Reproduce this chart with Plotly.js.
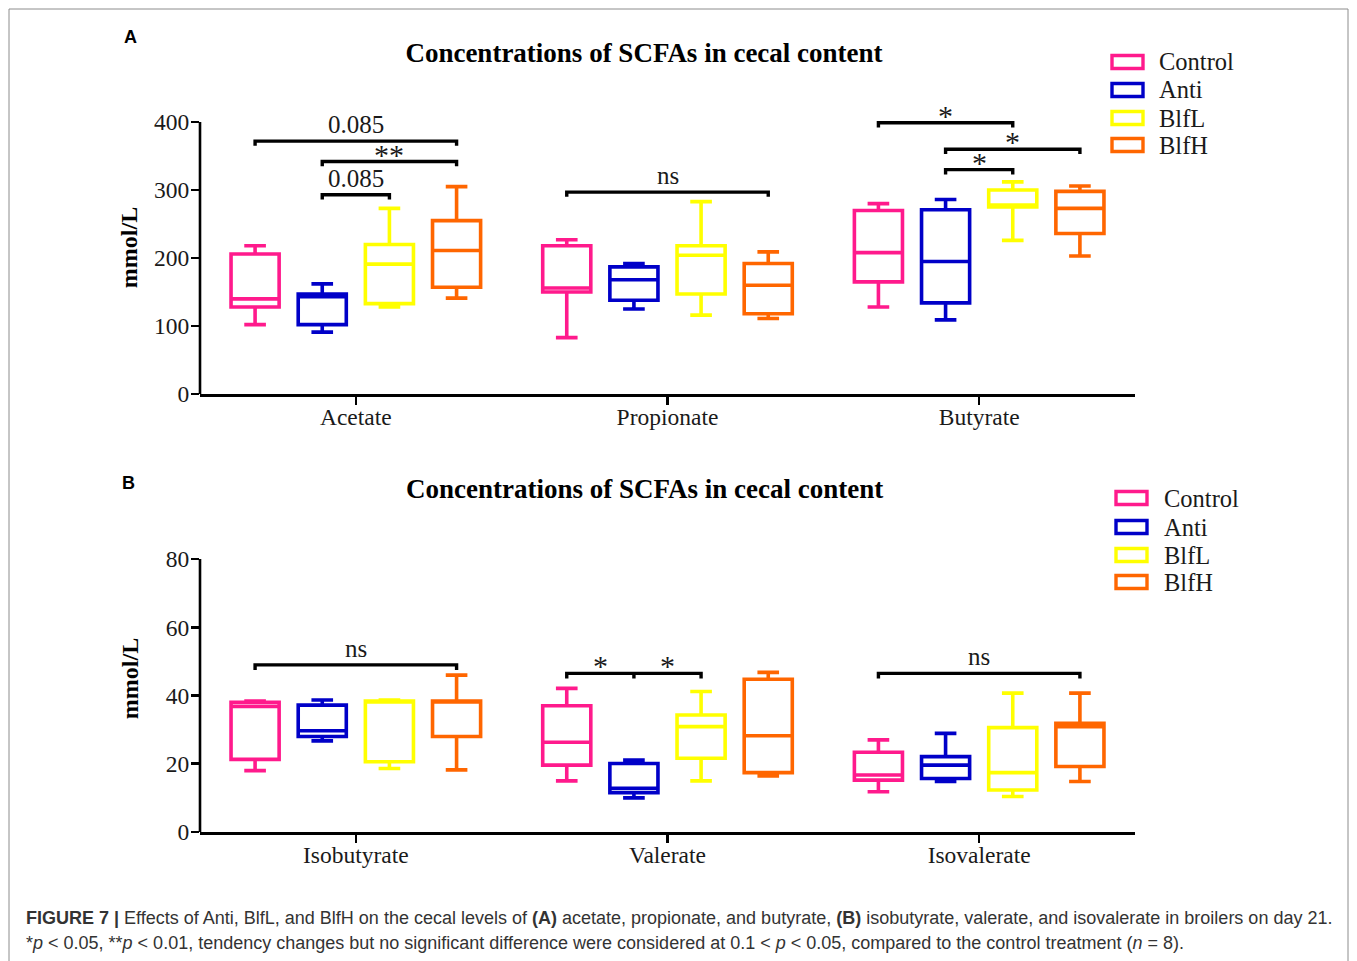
<!DOCTYPE html>
<html>
<head>
<meta charset="utf-8">
<script src="https://cdn.plot.ly/plotly-3.0.1.min.js"></script>
<style>html,body{margin:0;padding:0;background:#fff;}#chart{width:1357px;height:961px;}</style>
</head>
<body>
<div id="chart"></div>
<script>
// ---------- DATA ----------
const groups = ['Control', 'Anti', 'BlfL', 'BlfH'];
const colors = ['#ff1a8c', '#0000c8', '#ffff00', '#ff6600'];

const catsA = ['Acetate', 'Propionate', 'Butyrate'];
const catsB = ['Isobutyrate', 'Valerate', 'Isovalerate'];

// Panel A (mmol/L): per group, values for Acetate, Propionate, Butyrate
const upperA  = [[218, 227, 280], [162, 192, 286], [273, 283, 312], [305, 209, 306]];
const q3A     = [[206, 218, 270], [147, 187, 271], [220, 218, 300], [255, 192, 298]];
const medianA = [[140, 156, 208], [143, 168, 195], [191, 204, 278], [211, 160, 273]];
const q1A     = [[128, 150, 165], [102, 138, 134], [133, 147, 275], [157, 118, 236]];
const lowerA  = [[102, 83, 128],  [91, 125, 109],  [128, 116, 226], [141, 111, 203]];

// Panel B (mmol/L): per group, values for Isobutyrate, Valerate, Isovalerate
const upperB  = [[38.4, 42.1, 27.0], [38.7, 21.1, 28.9], [38.7, 41.2, 40.7], [46.0, 46.8, 40.7]];
const q3B     = [[38.0, 37.0, 23.4], [37.2, 20.1, 22.1], [38.4, 34.3, 30.6], [38.4, 44.8, 31.9]];
const medianB = [[36.8, 26.3, 16.7], [29.7, 12.8, 19.6], [38.2, 30.9, 17.4], [38.3, 28.2, 30.9]];
const q1B     = [[21.3, 19.6, 15.2], [28.0, 11.5, 15.7], [20.6, 21.6, 12.3], [28.0, 17.4, 19.2]];
const lowerB  = [[18.0, 15.0, 11.8], [26.7, 10.0, 14.8], [18.6, 15.0, 10.4], [18.2, 16.4, 14.8]];

// Significance brackets: [category index, from group, to group, level, label]
const bracketsA = [
  [0, 0, 3, 372, '0.085'],
  [0, 1, 3, 342, '**'],
  [0, 1, 2, 293, '0.085'],
  [1, 0, 3, 297, 'ns'],
  [2, 0, 2, 399, '*'],
  [2, 1, 3, 360, '*'],
  [2, 1, 2, 330, '*']
];
const bracketsB = [
  [0, 0, 3, 49, 'ns'],
  [2, 0, 3, 46.5, 'ns']
];
// Valerate double bracket: Control–Anti–BlfL
const doubleB = [1, 0, 1, 2, 46.5, '*', '*'];

// ---------- LAYOUT HELPERS ----------
const W = 1357, H = 961;
const mL = 200, mR = 222, mT = 101, mB = 129;
const plotW = W - mL - mR, plotH = H - mT - mB;
const px = x => (x - mL) / plotW;
const py = y => (H - mB - y) / plotH;

const boxgap = 0.138, boxgroupgap = 0.284;
const spacing = (1 - boxgap) / groups.length;
const pos = (cat, g) => cat + (g - (groups.length - 1) / 2) * spacing;

const serif = 'Liberation Serif, Times New Roman, serif';
const sans = 'Liberation Sans, Arial, sans-serif';
const txt = '#1a1a1a';

// ---------- TRACES ----------
const traces = [];
groups.forEach((g, i) => {
  traces.push({
    type: 'box', name: g, x: catsA,
    q1: q1A[i], median: medianA[i], q3: q3A[i], lowerfence: lowerA[i], upperfence: upperA[i],
    xaxis: 'x', yaxis: 'y', boxpoints: false, alignmentgroup: 'A', offsetgroup: g,
    line: {color: colors[i], width: 3.6}, fillcolor: 'rgba(255,255,255,0)',
    whiskerwidth: 0.45, showlegend: false, hoverinfo: 'skip'
  });
});
groups.forEach((g, i) => {
  traces.push({
    type: 'box', name: g, x: catsB,
    q1: q1B[i], median: medianB[i], q3: q3B[i], lowerfence: lowerB[i], upperfence: upperB[i],
    xaxis: 'x2', yaxis: 'y2', boxpoints: false, alignmentgroup: 'B', offsetgroup: g,
    line: {color: colors[i], width: 3.6}, fillcolor: 'rgba(255,255,255,0)',
    whiskerwidth: 0.45, showlegend: false, hoverinfo: 'skip'
  });
});

// ---------- SHAPES & ANNOTATIONS ----------
const shapes = [];
const annotations = [];

// figure frame
shapes.push({type: 'rect', xref: 'paper', yref: 'paper', x0: px(9), x1: px(1348), y0: py(975), y1: py(9),
  line: {color: '#8c8c8c', width: 1}, fillcolor: 'rgba(0,0,0,0)', layer: 'below'});

// y axis lines (0 .. top tick)
shapes.push({type: 'line', xref: 'paper', yref: 'y', x0: 0, x1: 0, y0: 0, y1: 400, line: {color: '#000', width: 2.6}});
shapes.push({type: 'line', xref: 'paper', yref: 'y2', x0: 0, x1: 0, y0: 0, y1: 80, line: {color: '#000', width: 2.6}});

function addBracket(xr, yr, x0, x1, lvl, drop, label) {
  const star = label.indexOf('*') >= 0;
  shapes.push({type: 'path', xref: xr, yref: yr,
    path: `M ${x0} ${lvl - drop} L ${x0} ${lvl} L ${x1} ${lvl} L ${x1} ${lvl - drop}`,
    line: {color: '#000', width: 3.4}});
  annotations.push({xref: xr, yref: yr, x: (x0 + x1) / 2, y: lvl, text: label, showarrow: false,
    yanchor: 'bottom', yshift: star ? -11 : 1,
    font: {family: serif, size: star ? 30 : 25, color: txt}});
}
bracketsA.forEach(b => addBracket('x', 'y', pos(b[0], b[1]), pos(b[0], b[2]), b[3], 7, b[4]));
bracketsB.forEach(b => addBracket('x2', 'y2', pos(b[0], b[1]), pos(b[0], b[2]), b[3], 1.5, b[4]));
(function () {
  const c = doubleB[0];
  const xa = pos(c, doubleB[1]), xm = pos(c, doubleB[2]), xb = pos(c, doubleB[3]);
  const lvl = doubleB[4];
  shapes.push({type: 'path', xref: 'x2', yref: 'y2',
    path: `M ${xa} ${lvl - 1.5} L ${xa} ${lvl} L ${xb} ${lvl} L ${xb} ${lvl - 1.5} M ${xm} ${lvl} L ${xm} ${lvl - 1.5}`,
    line: {color: '#000', width: 3.4}});
  [[xa, xm, doubleB[5]], [xm, xb, doubleB[6]]].forEach(s => {
    annotations.push({xref: 'x2', yref: 'y2', x: (s[0] + s[1]) / 2, y: lvl, text: s[2], showarrow: false,
      yanchor: 'bottom', yshift: -11, font: {family: serif, size: 30, color: txt}});
  });
})();

// custom legends
function addLegend(xSw, ys, xTxt) {
  groups.forEach((g, i) => {
    shapes.push({type: 'rect', xref: 'paper', yref: 'paper',
      x0: px(xSw), x1: px(xSw + 31), y0: py(ys[i] + 6.5), y1: py(ys[i] - 6.5),
      line: {color: colors[i], width: 3.4}, fillcolor: 'rgba(255,255,255,0)'});
    annotations.push({xref: 'paper', yref: 'paper', x: px(xTxt), y: py(ys[i]), text: g,
      showarrow: false, xanchor: 'left', yanchor: 'middle',
      font: {family: serif, size: 24.5, color: txt}});
  });
}
addLegend(1112, [62, 90, 118, 145], 1157);
addLegend(1116, [498, 527, 555, 582], 1162);

// panel titles & labels
const titleText = '<b>Concentrations of SCFAs in cecal content</b>';
annotations.push({xref: 'paper', yref: 'paper', x: px(644), y: py(489), text: titleText, showarrow: false,
  xanchor: 'center', yanchor: 'middle', font: {family: serif, size: 27, color: '#000'}});
annotations.push({xref: 'paper', yref: 'paper', x: px(130), y: py(37), text: '<b>A</b>', showarrow: false,
  xanchor: 'center', yanchor: 'middle', font: {family: sans, size: 18, color: '#000'}});
annotations.push({xref: 'paper', yref: 'paper', x: px(128), y: py(483), text: '<b>B</b>', showarrow: false,
  xanchor: 'center', yanchor: 'middle', font: {family: sans, size: 18, color: '#000'}});

// caption
const capFont = {family: 'Liberation Sans, Arial, sans-serif', size: 18, color: '#333'};
annotations.push({xref: 'paper', yref: 'paper', x: px(24), y: py(918), xanchor: 'left', yanchor: 'middle', showarrow: false,
  text: '<b>FIGURE 7 |</b> Effects of Anti, BlfL, and BlfH on the cecal levels of <b>(A)</b> acetate, propionate, and butyrate, <b>(B)</b> isobutyrate, valerate, and isovalerate in broilers on day 21.',
  font: capFont});
annotations.push({xref: 'paper', yref: 'paper', x: px(24), y: py(943), xanchor: 'left', yanchor: 'middle', showarrow: false,
  text: '*<i>p</i> &lt; 0.05, **<i>p</i> &lt; 0.01, tendency changes but no significant difference were considered at 0.1 &lt; <i>p</i> &lt; 0.05, compared to the control treatment (<i>n</i> = 8).',
  font: capFont});

// ---------- AXES ----------
const tickFont = {family: serif, size: 23.5, color: txt};
const xCommon = {
  type: 'category', range: [-0.5, 2.5], showline: true, linecolor: '#000', linewidth: 2.6,
  ticks: 'outside', ticklen: 8, tickwidth: 2.6, tickcolor: '#000', showgrid: false, zeroline: false,
  tickfont: tickFont, fixedrange: true, ticklabelstandoff: -8
};
const yCommon = {
  showline: false, ticks: 'outside', ticklen: 8, tickwidth: 2.6, tickcolor: '#000',
  showgrid: false, zeroline: false, tickfont: tickFont, fixedrange: true, ticklabelstandoff: -3
};

const layout = {
  width: W, height: H,
  margin: {l: mL, r: mR, t: mT, b: mB},
  paper_bgcolor: '#fff', plot_bgcolor: '#fff',
  showlegend: false,
  boxmode: 'group', boxgap: boxgap, boxgroupgap: boxgroupgap,
  title: {text: titleText, xref: 'paper', x: px(644), xanchor: 'center', yref: 'container', y: 1 - 53 / H, yanchor: 'middle',
    font: {family: serif, size: 27, color: '#000'}},
  xaxis: Object.assign({}, xCommon, {anchor: 'y', domain: [0, 1]}),
  xaxis2: Object.assign({}, xCommon, {anchor: 'y2', domain: [0, 1]}),
  yaxis: Object.assign({}, yCommon, {anchor: 'x', domain: [py(394), 1], range: [0, 431],
    tickvals: [0, 100, 200, 300, 400],
    title: {text: '<b>mmol/L</b>', font: {family: serif, size: 24, color: '#000'}, standoff: 9}}),
  yaxis2: Object.assign({}, yCommon, {anchor: 'x2', domain: [0, py(525)], range: [0, 90],
    tickvals: [0, 20, 40, 60, 80],
    title: {text: '<b>mmol/L</b>', font: {family: serif, size: 24, color: '#000'}, standoff: 20}}),
  shapes: shapes,
  annotations: annotations
};

Plotly.newPlot('chart', traces, layout, {displayModeBar: false, staticPlot: true});
</script>
</body>
</html>
